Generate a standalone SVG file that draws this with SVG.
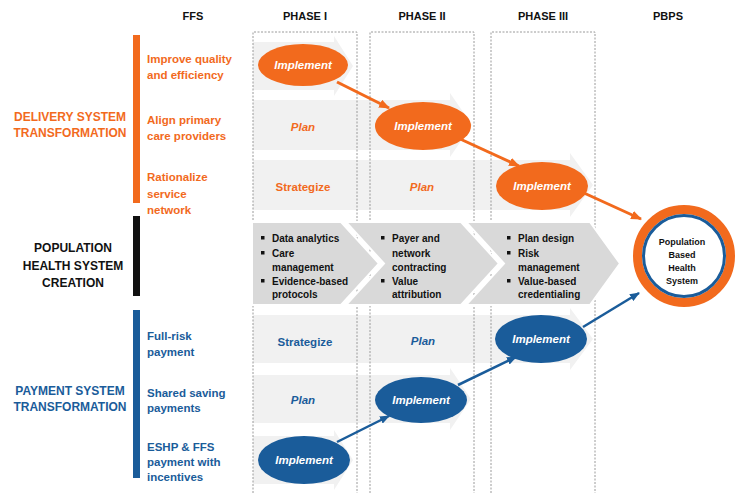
<svg xmlns="http://www.w3.org/2000/svg" width="738" height="493" viewBox="0 0 738 493">
<defs>
<style>
text{font-family:"Liberation Sans",Arial,sans-serif;font-weight:bold}
.hd{font-size:11px;fill:#111;text-anchor:middle}
.big{font-size:12px;text-anchor:middle}
.lbl{font-size:11.5px}
.or{fill:#F26A1D}
.bl{fill:#1A5C9A}
.bk{fill:#111}
.band{fill:#F1F1F1}
.col{fill:none;stroke:#9a9a9a;stroke-width:1;stroke-dasharray:2 1.5}
.chev{fill:#D9D9D9;stroke:#fff;stroke-width:2}
.ct{font-size:10px;fill:#111}
.imp{font-size:11.5px;font-style:italic;fill:#fff;text-anchor:middle}
.st{font-size:11.5px;text-anchor:middle}
.pl{font-size:11.5px;font-style:italic;text-anchor:middle}
.ao{stroke:#F26A1D;stroke-width:3;fill:none}
.ab{stroke:#1A5C9A;stroke-width:2.5;fill:none}
.ctr{font-size:9px;fill:#111;text-anchor:middle}
</style>
<marker id="mo" viewBox="0 0 10 8" refX="9" refY="4" markerWidth="11" markerHeight="9" markerUnits="userSpaceOnUse" orient="auto"><path d="M0,0 L10,4 L0,8 Z" fill="#F26A1D"/></marker>
<marker id="mb" viewBox="0 0 10 8" refX="9" refY="4" markerWidth="10" markerHeight="8" markerUnits="userSpaceOnUse" orient="auto"><path d="M0,0 L10,4 L0,8 Z" fill="#1A5C9A"/></marker>
</defs>
<rect width="738" height="493" fill="#fff"/>

<g id="headers">
<text class="hd" x="193" y="20">FFS</text>
<text class="hd" x="305" y="20">PHASE I</text>
<text class="hd" x="422" y="20">PHASE II</text>
<text class="hd" x="543" y="20">PHASE III</text>
<text class="hd" x="668" y="20">PBPS</text>
</g>

<g id="bands">
<path class="band" d="M253,42 H334 V36 L353,66 L334,96 V90 H253 Z"/>
<path class="band" d="M253,100 H450 V93 L472,125 L450,157 V150 H253 Z"/>
<path class="band" d="M253,160 H570 V153 L593,185 L570,217 V210 H253 Z"/>
<path class="band" d="M253,315 H570 V308 L593,339 L570,370 V363 H253 Z"/>
<path class="band" d="M253,375 H450 V368 L471,399 L450,430 V423 H253 Z"/>
<path class="band" d="M253,436 H334 V430 L353,460 L334,490 V484 H253 Z"/>
</g>

<g id="columns">
<path class="col" d="M253,500 V32 H357 V500"/>
<path class="col" d="M370,500 V32 H474 V500"/>
<path class="col" d="M491,500 V32 H595 V500"/>
</g>

<g id="delivery">
<rect x="133" y="35" width="7" height="168" fill="#F26A1D"/>
<text class="big or" x="70" y="121">DELIVERY SYSTEM</text>
<text class="big or" x="70" y="137">TRANSFORMATION</text>
<text class="lbl or" x="147" y="63">Improve quality</text>
<text class="lbl or" x="147" y="79">and efficiency</text>
<text class="lbl or" x="147" y="124">Align primary</text>
<text class="lbl or" x="147" y="140">care providers</text>
<text class="lbl or" x="147" y="181">Rationalize</text>
<text class="lbl or" x="147" y="198">service</text>
<text class="lbl or" x="147" y="214">network</text>
</g>

<g id="population">
<rect x="133" y="216" width="7" height="80" fill="#111"/>
<text class="big bk" x="73" y="252">POPULATION</text>
<text class="big bk" x="73" y="270">HEALTH SYSTEM</text>
<text class="big bk" x="73" y="287">CREATION</text>
</g>

<g id="payment">
<rect x="133" y="310" width="7" height="168" fill="#1A5C9A"/>
<text class="big bl" x="70" y="395">PAYMENT SYSTEM</text>
<text class="big bl" x="70" y="411">TRANSFORMATION</text>
<text class="lbl bl" x="147" y="340">Full-risk</text>
<text class="lbl bl" x="147" y="356">payment</text>
<text class="lbl bl" x="147" y="397">Shared saving</text>
<text class="lbl bl" x="147" y="412">payments</text>
<text class="lbl bl" x="147" y="451">ESHP &amp; FFS</text>
<text class="lbl bl" x="147" y="466">payment with</text>
<text class="lbl bl" x="147" y="481">incentives</text>
</g>

<g id="chevron1">
<path class="chev" d="M252,222 H341 L379,263.5 L341,305 H252 Z"/>
<rect x="261" y="236" width="3.5" height="3.5" fill="#111"/>
<rect x="261" y="251" width="3.5" height="3.5" fill="#111"/>
<rect x="261" y="279" width="3.5" height="3.5" fill="#111"/>
<text class="ct" x="272" y="241.5">Data analytics</text>
<text class="ct" x="272" y="256.5">Care</text>
<text class="ct" x="272" y="270.5">management</text>
<text class="ct" x="272" y="284.5">Evidence-based</text>
<text class="ct" x="272" y="298">protocols</text>
</g>
<g id="chevron2">
<path class="chev" d="M346,222 H461 L499,263.5 L461,305 H346 L384,263.5 Z"/>
<rect x="381" y="236" width="3.5" height="3.5" fill="#111"/>
<rect x="381" y="279" width="3.5" height="3.5" fill="#111"/>
<text class="ct" x="392" y="241.5">Payer and</text>
<text class="ct" x="392" y="256.5">network</text>
<text class="ct" x="392" y="270.5">contracting</text>
<text class="ct" x="392" y="284.5">Value</text>
<text class="ct" x="392" y="298">attribution</text>
</g>
<g id="chevron3">
<path class="chev" d="M466,222 H590 L620,263.5 L590,305 H466 L504,263.5 Z"/>
<rect x="507" y="236" width="3.5" height="3.5" fill="#111"/>
<rect x="507" y="251" width="3.5" height="3.5" fill="#111"/>
<rect x="507" y="279" width="3.5" height="3.5" fill="#111"/>
<text class="ct" x="518" y="241.5">Plan design</text>
<text class="ct" x="518" y="256.5">Risk</text>
<text class="ct" x="518" y="270.5">management</text>
<text class="ct" x="518" y="284.5">Value-based</text>
<text class="ct" x="518" y="298">credentialing</text>
</g>

<g id="labels-orange">
<text class="pl or" x="303" y="131">Plan</text>
<text class="st or" x="303" y="191">Strategize</text>
<text class="pl or" x="422" y="191">Plan</text>
</g>
<g id="labels-blue">
<text class="st bl" x="305" y="346">Strategize</text>
<text class="pl bl" x="423" y="345">Plan</text>
<text class="pl bl" x="303" y="404">Plan</text>
</g>

<g id="connectors">
<line class="ao" x1="337" y1="82" x2="389" y2="108" marker-end="url(#mo)"/>
<line class="ao" x1="458" y1="138" x2="519" y2="166" marker-end="url(#mo)"/>
<line class="ao" x1="584" y1="193" x2="641" y2="219" marker-end="url(#mo)"/>
<line class="ab" x1="337" y1="442" x2="389" y2="416" marker-end="url(#mb)"/>
<line class="ab" x1="458" y1="385" x2="516" y2="357" marker-end="url(#mb)"/>
<line class="ab" x1="583" y1="327" x2="639" y2="293" marker-end="url(#mb)"/>
</g>

<g id="impl-o1"><ellipse cx="303" cy="65" rx="45" ry="21" fill="#F26A1D"/><text class="imp" x="303" y="69">Implement</text></g>
<g id="impl-o2"><ellipse cx="423" cy="126" rx="48" ry="24" fill="#F26A1D"/><text class="imp" x="423" y="130">Implement</text></g>
<g id="impl-o3"><ellipse cx="542" cy="186" rx="46" ry="24" fill="#F26A1D"/><text class="imp" x="542" y="190">Implement</text></g>
<g id="impl-b1"><ellipse cx="304" cy="460" rx="46" ry="24" fill="#1A5C9A"/><text class="imp" x="304" y="464">Implement</text></g>
<g id="impl-b2"><ellipse cx="421" cy="400" rx="46" ry="23" fill="#1A5C9A"/><text class="imp" x="421" y="404">Implement</text></g>
<g id="impl-b3"><ellipse cx="541" cy="339" rx="46" ry="24" fill="#1A5C9A"/><text class="imp" x="541" y="343">Implement</text></g>

<g id="pbhs">
<circle cx="684" cy="256" r="46.5" fill="#fff" stroke="#F26A1D" stroke-width="9"/>
<circle cx="684" cy="256" r="40.5" fill="#fff" stroke="#1A5C9A" stroke-width="3"/>
<text class="ctr" x="682" y="245">Population</text>
<text class="ctr" x="682" y="258">Based</text>
<text class="ctr" x="682" y="271">Health</text>
<text class="ctr" x="682" y="284">System</text>
</g>
</svg>
